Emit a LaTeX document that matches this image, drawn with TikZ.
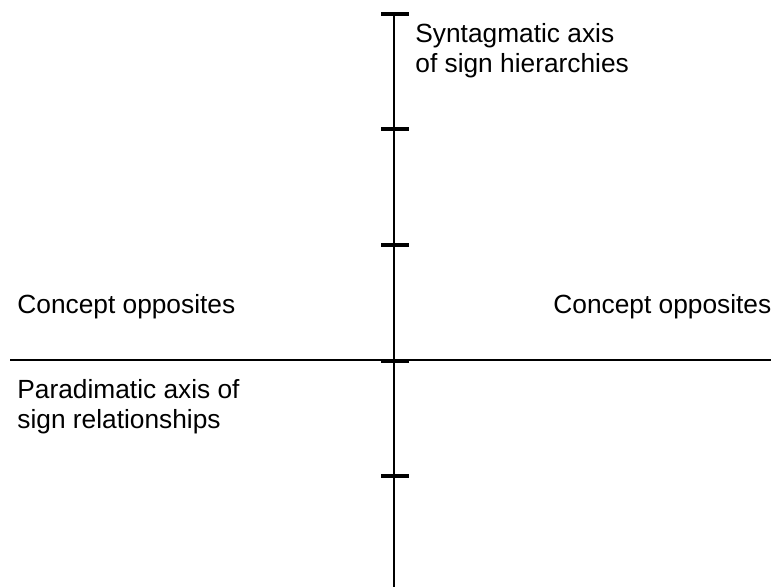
\documentclass[tikz,border=0pt]{standalone}
\usepackage{fontspec}
\setmainfont{Liberation Sans}
\begin{document}
\begin{tikzpicture}[x=0.5pt,y=-0.5pt,
  axisline/.style={line width=1pt,black},
  tickmark/.style={line width=1.8pt,black},
  lbl/.style={inner sep=0pt,anchor=base west,align=left,font=\fontsize{13.15pt}{15pt}\selectfont}]
\useasboundingbox (0,0) rectangle (771,587);
% axes
\coordinate (vtop) at (394,13);
\coordinate (vbot) at (394,590);
\coordinate (hl) at (10,360);
\coordinate (hr) at (771,360);
\draw[axisline] (vtop) -- (vbot);
\draw[axisline] (hl) -- (hr);
% ticks
\foreach \y/\n in {14/t1,129/t2,245/t3,361/t4,476/t5}{
  \coordinate (\n l) at (381,\y);
  \coordinate (\n r) at (409,\y);
  \draw[tickmark] (\n l) -- (\n r);
}
% labels (base anchor = baseline of last line)
\node[lbl] (syn) at (415,73) {Syntagmatic axis\\of sign hierarchies};
\node[lbl] (col) at (17,314) {Concept opposites};
\node[lbl] (cor) at (553,314) {Concept opposites};
\node[lbl] (par) at (17,429) {Paradimatic axis of\\sign relationships};
\end{tikzpicture}
\end{document}
